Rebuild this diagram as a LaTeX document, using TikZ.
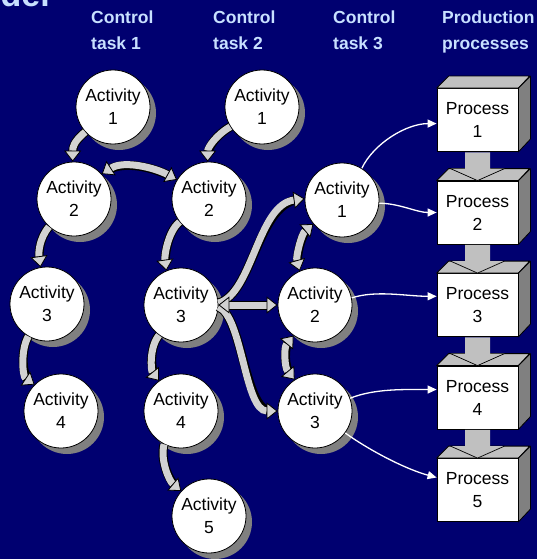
\documentclass[tikz,border=0pt]{standalone}
\usepackage{fontspec}
\setmainfont{Liberation Sans}
\usetikzlibrary{arrows.meta,shadows,calc}
\definecolor{bg}{RGB}{0,0,112}
\definecolor{hdr}{RGB}{200,224,255}
\definecolor{shadowgray}{RGB}{128,128,128}
\definecolor{arrowgray}{RGB}{210,210,210}
\definecolor{topgray}{RGB}{192,192,192}
\definecolor{sidegray}{RGB}{128,128,128}
\newcommand\actfont{\fontsize{17.5}{23}\selectfont}
\newcommand\hdrfont{\fontsize{17.5}{26}\selectfont\bfseries}
\begin{document}
\begin{tikzpicture}[x=1pt,y=-1pt,
  act/.style={circle, draw=black, line width=0.8pt, fill=white, minimum size=74pt,
    inner sep=0pt, align=center, font=\actfont,
    drop shadow={shadow xshift=6pt, shadow yshift=-6pt, fill=shadowgray, opacity=1}},
  proc/.style={rectangle, draw=black, line width=0.8pt, fill=white, minimum width=81pt,
    minimum height=63pt, inner sep=0pt, align=center, font=\actfont},
  hdrtext/.style={anchor=north west, inner sep=0pt, align=left, font=\hdrfont, text=hdr},
  blk/.style={line width=7pt, draw=arrowgray,
    preaction={draw=black, line width=9pt, -, shorten >=7pt},
    -{Triangle[width=17pt,length=11pt,fill=arrowgray,color=black,line width=0.8pt]}},
  blkd/.style={line width=7pt, draw=arrowgray,
    preaction={draw=black, line width=9pt, -, shorten >=7pt, shorten <=7pt},
    {Triangle[width=17pt,length=11pt,fill=arrowgray,color=black,line width=0.8pt]}-{Triangle[width=17pt,length=11pt,fill=arrowgray,color=black,line width=0.8pt]}},
  wht/.style={draw=white, line width=1.3pt, -{Triangle[width=8pt,length=9pt]}},
  topface/.style={fill=topgray, draw=black, line width=0.8pt, line join=round},
  sideface/.style={fill=sidegray, draw=black, line width=0.8pt, line join=round},
]
\fill[bg] (0,0) rectangle (537,559);
\useasboundingbox (0,0) rectangle (537,559);

% title (mostly above the page, as in the reference) and headers
\node[anchor=base east, inner sep=0pt, font=\fontsize{34}{40}\selectfont\bfseries, text=hdr] (title) at (50,7) {Model};
\node[hdrtext] (h1) at (91,10.5) {Control\\task 1};
\node[hdrtext] (h2) at (213,10.5) {Control\\task 2};
\node[hdrtext] (h3) at (333,10.5) {Control\\task 3};
\node[hdrtext] (h4) at (442,10.5) {Production\\processes};

% activities
\node[act] (a11) at (113,107) {Activity\\1};
\node[act] (a12) at (74,199) {Activity\\2};
\node[act] (a13) at (47,304) {Activity\\3};
\node[act] (a14) at (61,411) {Activity\\4};
\node[act] (a21) at (262,107) {Activity\\1};
\node[act] (a22) at (209,199) {Activity\\2};
\node[act] (a23) at (181,305) {Activity\\3};
\node[act] (a24) at (181,411) {Activity\\4};
\node[act] (a25) at (209,516) {Activity\\5};
\node[act] (a31) at (342,200) {Activity\\1};
\node[act] (a32) at (315,305) {Activity\\2};
\node[act] (a33) at (315,411) {Activity\\3};

% processes
\foreach \i/\y in {1/120,2/212.5,3/305,4/397.5,5/490}{
  \node[proc] (p\i) at (477.5,\y) {Process\\\i};
  \filldraw[topface] (p\i.north west) -- ++(12,-12) -- ++(81,0) -- (p\i.north east) -- cycle;
  \filldraw[sideface] (p\i.north east) -- ++(12,-12) -- ++(0,63) -- (p\i.south east) -- cycle;
}
\foreach \i/\j in {1/2,2/3,3/4,4/5}{
  \fill[topgray] ($(p\i.south)+(-12.5,0.5)$) -- ($(p\j.north)+(-12.5,-12)$) -- ($(p\j.north)+(-27,-12)$)
    -- (p\j.north) -- ($(p\j.north)+(27,-12)$) -- ($(p\j.north)+(12.5,-12)$) -- ($(p\i.south)+(12.5,0.5)$) -- cycle;
  \draw[black, line width=0.7pt] ($(p\j.north)+(-27,-12)$) -- (p\j.north) -- ($(p\j.north)+(27,-12)$);
}

% block arrows between activities
\draw[blk] (a11.222) .. controls +(-12,10) and +(0,-14) .. (a12.92);
\draw[blk] (a21.212) .. controls +(-14,8) and +(0,-14) .. (a22.92);
\draw[blkd] (a12.42) .. controls +(22,-14) and +(-22,-12) .. (a22.149);
\draw[blk] (a12.228) .. controls +(-10,12) and +(-2,-14) .. (a13.100);
\draw[blk] (a13.240) .. controls +(-8,14) and +(-12,-8) .. (a14.135);
\draw[blk] (a22.218) .. controls +(-12,10) and +(-2,-14) .. (a23.113);
\draw[blk] (a23.234) .. controls +(-10,12) and +(-8,-10) .. (a24.126);
\draw[blk] (a24.243) .. controls +(-4,16) and +(-12,-10) .. (a25.138);
\draw[blk] (a23.3) .. controls +(34,-9) and +(-47,6) .. (a31.178);
\draw[blk] (a23.357) .. controls +(24,9) and +(-33,0) .. (a33.180);
\draw[blkd] (a23.0) -- (a32.180);
\draw[blkd] (a31.220) .. controls +(-12,10) and +(-4,-14) .. (a32.114);
\draw[blkd] (a32.235) .. controls +(-10,12) and +(-10,-12) .. (a33.123);

% white arrows to processes
\draw[wht] (a31.58) .. controls +(12,-25) and +(-30,0) .. (p1.185);
\draw[wht] (a31.355) .. controls +(20,0) and +(-20,0) .. (p2.west);
\draw[wht] (a32.11) .. controls +(25,-8) and +(-30,0) .. (p3.168);
\draw[wht] (a33.20) .. controls +(25,-10) and +(-30,0) .. (p4.169);
\draw[wht] (a33.324) .. controls +(25,18) and +(-30,-8) .. (p5.163);
\end{tikzpicture}
\end{document}
